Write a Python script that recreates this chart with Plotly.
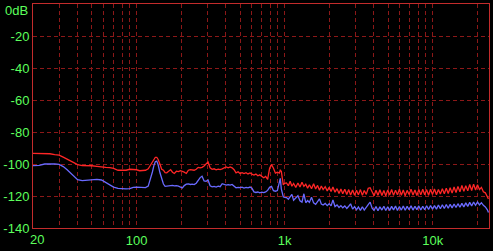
import plotly.graph_objects as go

# ---------------- data ----------------
freq_hz = [
    20, 22, 24, 26, 28, 30, 32, 34, 36, 38, 40, 43, 46, 50, 54, 58, 62, 66, 70, 75,
    80, 85, 90, 95, 100, 105, 110, 115, 120, 124, 128, 131, 134, 137, 140, 144, 148, 152, 156, 160,
    165, 170, 175, 180, 186, 192, 198, 204, 210, 217, 224, 231, 238, 245, 253, 261, 269, 277, 286, 295,
    304, 314, 324, 334, 345, 356, 367, 379, 391, 403, 416, 429, 442, 456, 470, 485, 500, 516, 532, 549,
    566, 584, 602, 621, 640, 660, 680, 701, 723, 745, 768, 792, 816, 841, 867, 894, 921, 935, 950, 965,
    980, 1000,
    1030, 1060, 1090, 1120, 1150, 1190, 1230, 1270, 1310, 1350, 1390, 1430, 1470, 1520, 1570, 1620, 1670, 1720, 1770, 1820,
    1880, 1940, 2000, 2060, 2120, 2190, 2260, 2330, 2400, 2470, 2550, 2630, 2710, 2790, 2880, 2970, 3060, 3150, 3250, 3350,
    3450, 3560, 3670, 3780, 3900, 4020, 4140, 4270, 4400, 4540, 4680, 4820, 4970, 5120, 5280, 5440, 5610, 5780, 5960, 6140,
    6330, 6520, 6720, 6930, 7140, 7360, 7590, 7820, 8060, 8310, 8570, 8830, 9100, 9380, 9670, 9970, 10280, 10600, 10930, 11270,
    11620, 11980, 12350, 12730, 13120, 13520, 13940, 14370, 14810, 15270, 15740, 16230, 16730, 17250, 17780, 18330, 18890, 19470, 20070, 20690,
    21330, 21990, 22670, 23400, 23800,
]

red_db = [
    -93.4, -93.4, -93.5, -93.6, -94.2, -94.5, -95.7, -96.9, -98.1, -99.3, -100.4, -101.0, -101.0, -101.1, -101.5, -101.6, -102.1, -102.3, -102.7, -103.9,
    -103.9, -103.9, -103.3, -103.3, -103.6, -104.2, -103.9, -103.9, -103.0, -100.9, -98.4, -96.6, -95.8, -95.8, -97.2, -100.2, -103.3, -103.9, -105.4, -105.5,
    -104.5, -103.5, -105.1, -105.9, -104.5, -104.8, -104.2, -104.5, -105.1, -105.9, -103.9, -103.5, -103.6, -103.9, -103.3, -102.1, -102.4, -102.1, -101.2, -99.6,
    -98.7, -102.4, -103.3, -103.0, -103.6, -103.2, -103.5, -103.0, -102.1, -101.8, -102.4, -101.8, -102.4, -103.6, -105.5, -104.8, -105.9, -105.4, -106.0, -105.4,
    -106.2, -105.6, -106.3, -106.9, -106.3, -107.4, -106.8, -107.5, -108.6, -107.8, -109.6, -102.7, -100.4, -102.7, -105.7, -105.1, -105.7, -103.9, -104.5, -108.8,
    -113.0, -112.1,
    -111.8, -113.6, -110.8, -113.9, -112.2, -114.6, -111.9, -114.4, -111.4, -114.0, -112.6, -115.2, -113.0, -115.4, -112.4, -115.6, -113.4, -116.4, -113.8, -116.0,
    -114.2, -116.8, -114.6, -117.2, -114.4, -117.6, -115.4, -118.4, -115.6, -118.6, -115.8, -119.0, -116.0, -119.4, -116.2, -119.6, -116.4, -119.3, -116.0, -119.6,
    -116.6, -119.0, -115.2, -114.8, -117.0, -119.8, -116.4, -119.5, -116.1, -119.7, -116.6, -119.9, -116.2, -119.4, -115.9, -119.6, -116.4, -119.2, -115.8, -119.5,
    -116.3, -119.8, -116.5, -119.1, -115.7, -119.4, -116.2, -119.7, -116.0, -119.3, -115.8, -119.2, -116.0, -119.5, -115.8, -119.0, -115.6, -119.2, -115.9, -118.8,
    -115.4, -118.6, -115.2, -118.4, -114.8, -118.2, -114.4, -117.8, -114.0, -117.4, -113.4, -117.0, -113.6, -116.8, -112.8, -116.6, -112.6, -116.2, -113.0, -116.0,
    -114.6, -117.4, -118.0, -120.5, -121.8,
]

blue_db = [
    -101.0, -100.8, -100.0, -99.9, -99.9, -100.3, -101.6, -103.6, -105.6, -107.6, -109.8, -110.4, -110.1, -109.9, -109.6, -110.0, -111.6, -113.0, -114.4, -115.2,
    -115.5, -115.6, -115.4, -114.6, -114.5, -114.6, -114.6, -114.8, -113.8, -110.0, -105.0, -101.0, -98.6, -98.2, -100.5, -105.5, -109.8, -112.5, -114.0, -113.8,
    -113.5, -113.6, -113.4, -113.7, -113.5, -113.8, -114.2, -115.0, -113.5, -112.6, -112.4, -112.8, -112.6, -112.9, -112.0, -110.2, -108.5, -107.6, -110.6, -110.8,
    -110.0, -113.6, -114.3, -114.0, -114.4, -113.9, -114.2, -112.3, -112.8, -113.2, -112.9, -113.2, -112.8, -114.2, -114.9, -114.6, -114.8, -114.5, -115.0, -114.6,
    -114.9, -114.4, -115.2, -117.4, -117.8, -117.5, -118.0, -117.6, -117.9, -117.4, -116.5, -114.6, -114.0, -116.7, -117.0, -116.6, -110.5, -109.0, -115.5, -119.0,
    -120.5, -120.8,
    -121.0, -122.0, -120.0, -119.0, -122.6, -121.4, -119.8, -123.0, -123.8, -118.6, -124.2, -122.8, -124.0, -120.8, -124.3, -125.2, -123.8, -121.8, -125.0, -125.6,
    -124.6, -126.0, -124.8, -126.2, -122.4, -126.6, -125.6, -127.2, -126.0, -127.4, -126.2, -127.8, -126.4, -124.9, -128.2, -126.6, -128.6, -126.8, -129.0, -126.7,
    -128.8, -126.6, -125.4, -123.8, -127.6, -129.0, -126.6, -129.2, -126.8, -128.8, -126.4, -129.1, -126.7, -129.0, -126.5, -128.7, -126.3, -129.0, -126.6, -128.8,
    -126.2, -128.9, -126.5, -128.6, -126.1, -128.8, -126.4, -128.5, -126.2, -128.7, -126.4, -128.6, -126.1, -128.4, -125.9, -128.3, -126.0, -128.2, -125.6, -128.0,
    -125.5, -127.8, -125.3, -127.7, -125.2, -127.4, -125.0, -127.2, -124.8, -127.0, -124.6, -126.8, -124.3, -126.5, -124.0, -126.2, -123.8, -125.8, -123.7, -125.6,
    -124.2, -125.8, -126.8, -128.6, -130.3,
]

x_grid_vals = [20, 30, 40, 50, 60, 70, 80, 90, 100, 200, 300, 400, 500, 600, 700, 800, 900,
               1000, 2000, 3000, 4000, 5000, 6000, 7000, 8000, 9000, 10000, 20000]
x_grid_text = ["", "", "", "", "", "", "", "", "100", "", "", "", "", "", "", "", "",
               "1k", "", "", "", "", "", "", "", "", "10k", ""]
y_tick_vals = [-140, -120, -100, -80, -60, -40, -20, 0]
y_tick_text = ["-140", "-120", "-100", "-80", "-60", "-40", "-20", ""]
x_min_label = "20"
y_max_label = "0dB"

# ---------------- style ----------------
GREEN = "#5cff5c"
BORDER = "#c42c2c"
GRID = "#8c1818"
FONT = "Liberation Sans Narrow, sans-serif"

fig = go.Figure()
fig.add_trace(go.Scatter(x=freq_hz, y=red_db, mode="lines",
                         line=dict(color="#ff2626", width=1.3), showlegend=False))
fig.add_trace(go.Scatter(x=freq_hz, y=blue_db, mode="lines",
                         line=dict(color="#6a6aff", width=1.3), showlegend=False))

fig.update_xaxes(type="log", range=[1.30103, 4.380211],
                 tickmode="array", tickvals=x_grid_vals, ticktext=x_grid_text,
                 showgrid=True, gridcolor=GRID, gridwidth=1, griddash="4px,3px",
                 showline=True, linecolor=BORDER, linewidth=1, mirror=True,
                 zeroline=False, ticks="",
                 tickfont=dict(family=FONT, size=13, color=GREEN))
fig.update_yaxes(range=[-140, 0], tickmode="array", tickvals=y_tick_vals, ticktext=y_tick_text,
                 showgrid=True, gridcolor=GRID, gridwidth=1, griddash="4px,3px",
                 showline=True, linecolor=BORDER, linewidth=1, mirror=True,
                 zeroline=False, ticks="",
                 tickfont=dict(family=FONT, size=13, color=GREEN))

fig.add_annotation(x=0, y=0, xref="paper", yref="paper", text=x_min_label,
                   showarrow=False, xanchor="left", yanchor="top", xshift=-5, yshift=-2,
                   font=dict(family=FONT, size=13, color=GREEN))
fig.add_annotation(x=0, y=1, xref="paper", yref="paper", text=y_max_label,
                   showarrow=False, xanchor="right", yanchor="top", xshift=-3, yshift=3,
                   font=dict(family=FONT, size=13, color=GREEN))

fig.update_layout(width=493, height=251, margin=dict(l=29, r=4, t=3, b=18),
                  paper_bgcolor="black", plot_bgcolor="black")

fig.write_html("out.html")
